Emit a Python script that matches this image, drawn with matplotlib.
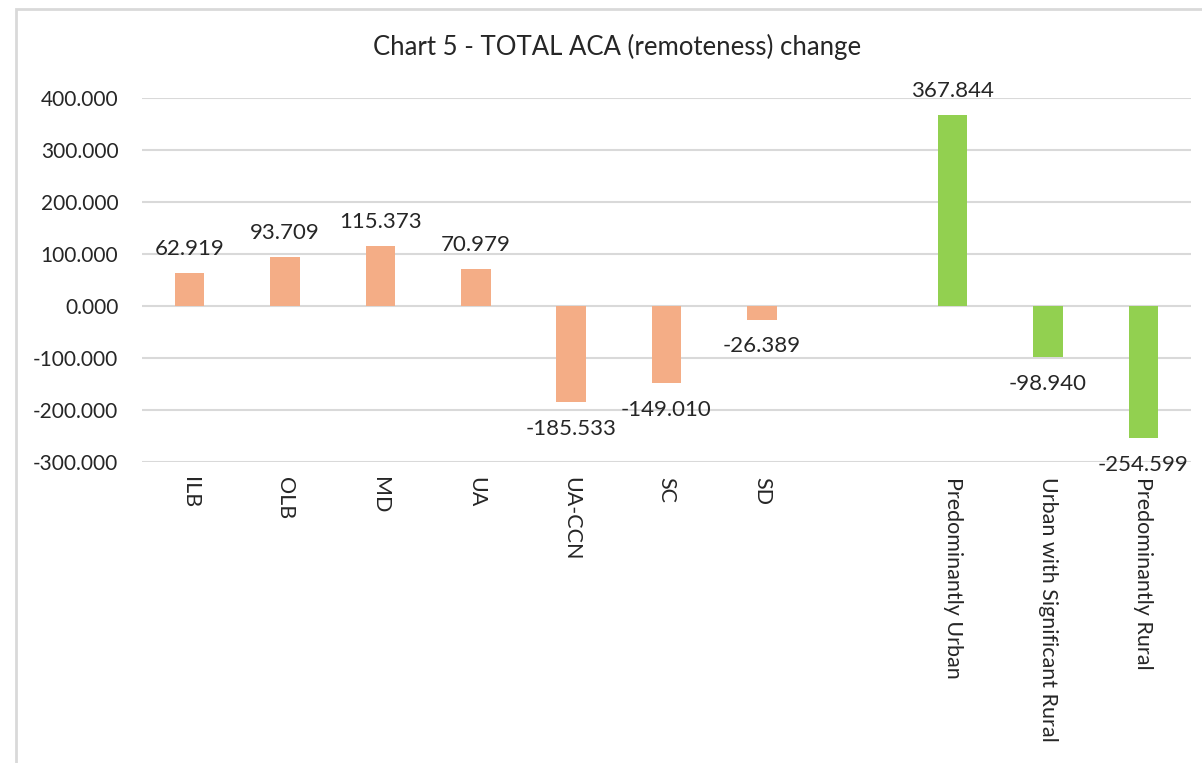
import numpy as np
import matplotlib
matplotlib.use("Agg")
import matplotlib.pyplot as plt
from matplotlib.patches import Rectangle

plt.rcParams['font.family'] = ['Lato', 'DejaVu Sans']

# data
categories = ["ILB", "OLB", "MD", "UA", "UA-CCN", "SC", "SD", "",
              "Predominantly Urban", "Urban with Significant Rural", "Predominantly Rural"]
values = [62.919, 93.709, 115.373, 70.979, -185.533, -149.010, -26.389, None,
          367.844, -98.940, -254.599]
groups = ["area"] * 7 + [None] + ["rural"] * 3
colours = {"area": "#F4AD86", "rural": "#92D050"}

fig = plt.figure(figsize=(12.02, 7.63), dpi=100)
ax = fig.add_axes([142 / 1202, 1 - 462 / 763, (1191 - 142) / 1202, (462 - 98) / 763])

# light border round the chart area (only left/top visible in the crop)
fig.patches.append(Rectangle((16 / 1202, -0.1), 1.2, 1 - 9 / 763 + 0.1,
                             transform=fig.transFigure, fill=False,
                             edgecolor="#D9D9D9", linewidth=2))

x = np.arange(len(categories))
for i, (v, g) in enumerate(zip(values, groups)):
    if v is None:
        continue
    ax.bar(x[i], v, width=0.31, color=colours[g], zorder=3)
    off = 10 if v >= 0 else -12
    ax.annotate(f"{v:.3f}", (x[i], v), xytext=(0, off), textcoords="offset points",
                ha="center", va="bottom" if v >= 0 else "top",
                fontsize=16, color="#262626", zorder=4)

ax.set_xlim(-0.5, len(categories) - 0.5)
ax.set_ylim(-300, 400)
ax.set_yticks(np.arange(-300, 401, 100))
ax.set_yticklabels([f"{t:.3f}" for t in np.arange(-300, 401, 100)], fontsize=15, color="#262626")
ax.yaxis.grid(True, color="#D9D9D9", linewidth=1.5, zorder=0)
ax.tick_params(axis="y", length=0, pad=17)
ax.tick_params(axis="x", length=0, pad=11)
ax.set_xticks(x)
ax.set_xticklabels(categories, rotation=-90, fontsize=15.5, color="#262626",
                   ha="center", va="top")
for s in ax.spines.values():
    s.set_visible(False)

fig.text(617 / 1202, 1 - 47 / 763, "Chart 5 - TOTAL ACA (remoteness) change",
         ha="center", va="center", fontsize=18.5, color="#262626")

fig.savefig("out.png", dpi=100, facecolor="white")
